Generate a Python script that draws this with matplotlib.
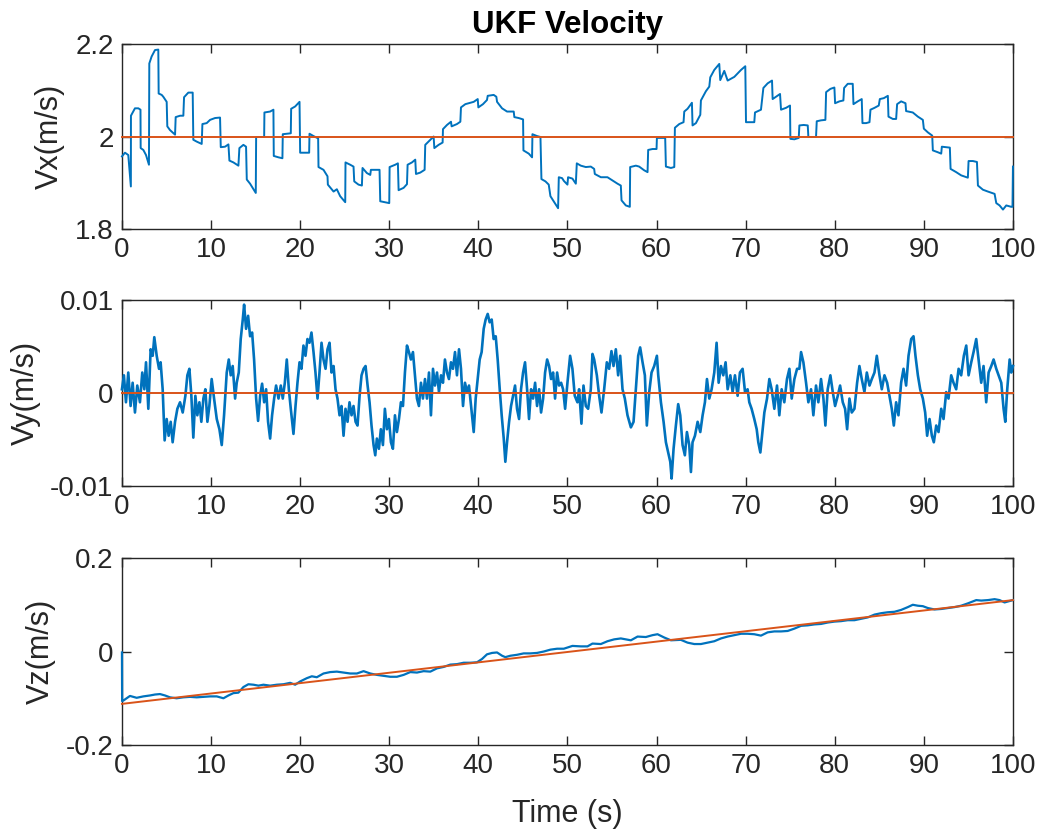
import matplotlib
matplotlib.use("Agg")
import numpy as np
import matplotlib.pyplot as plt

# ---- data ----
time_ref = [0, 100]
vx_ref = [2.0, 2.0]
vy_ref = [0.0, 0.0]
vz_ref = [-0.112, 0.110]

vx_t = [0, 0.34, 0.71, 1.0, 1.01, 1.46, 1.84, 2.08, 2.10, 2.40, 2.70, 3.03, 3.07, 3.33, 3.71, 4.08,
        4.12, 4.46, 4.64, 5.02, 5.09, 5.39, 5.96, 6.03, 6.52, 6.89, 6.97, 7.45, 7.94, 8.01, 8.39, 8.95,
        9.03, 9.51, 9.89, 10.45, 11.01, 11.09, 11.57, 11.95, 12.06, 12.51, 13.07, 13.18, 13.63, 13.93,
        14.01, 14.38, 15.02, 15.06, 15.69, 15.96, 15.99, 16.63, 17.00, 17.04, 17.57, 18.01, 18.05, 18.50,
        18.95, 18.99, 19.44, 19.93, 20.0, 20.56, 21.01, 21.05, 21.50, 22.02, 22.06, 22.62, 23.07, 23.11,
        23.75, 24.12, 24.49, 25.06, 25.09, 25.62, 25.99, 26.07, 26.55, 26.93, 27.0, 27.49, 27.87, 27.94,
        28.24, 28.91, 28.99, 30.0, 30.04, 30.67, 30.97, 31.05, 31.61, 31.99, 32.06, 32.55, 32.92, 33.0,
        33.48, 33.97, 34.04, 34.61, 34.98, 35.06, 35.54, 35.99, 36.03, 36.48, 36.93, 37.0, 37.6, 37.98,
        38.05, 38.54, 39.1, 39.48, 39.93, 40.0, 40.52, 40.97, 41.05, 41.72, 42.02, 42.1, 42.66, 43.22,
        43.97, 44.04, 44.53, 45.02, 45.06, 45.66, 46.03, 46.07, 46.59, 46.97, 47.08, 47.53, 47.9, 48.09,
        48.95, 49.03, 49.4, 49.6, 50.0, 50.07, 50.56, 50.94, 51.05, 51.5, 52.06, 52.62, 53.0, 53.07,
        53.75, 54.49, 55.06, 55.62, 55.99, 56.07, 56.55, 57.0, 57.04, 57.68, 58.05, 58.61, 58.99, 59.06,
        59.55, 60.0, 60.04, 60.49, 60.97, 61.05, 61.61, 61.99, 62.06, 62.55, 63.03, 63.11, 63.48, 63.97,
        64.04, 64.42, 64.91, 64.98, 65.54, 65.92, 66.03, 66.48, 67.04, 67.15, 67.6, 67.98, 68.73, 69.48,
        69.96, 70.04, 70.6, 70.97, 71.05, 71.72, 71.99, 72.47, 72.96, 73.03, 73.41, 73.86, 73.97, 74.53,
        74.98, 75.02, 75.47, 75.96, 76.03, 76.52, 76.97, 77.04, 77.9, 77.98, 78.46, 78.95, 79.03, 79.51,
        79.96, 80.04, 80.52, 80.97, 81.05, 81.46, 82.02, 82.1, 82.58, 83.03, 83.11, 83.52, 83.9, 84.01,
        84.46, 84.94, 85.06, 85.51, 85.96, 86.03, 86.52, 86.89, 87.0, 87.45, 87.94, 88.01, 88.76, 89.33,
        89.89, 90.0, 90.45, 90.94, 91.01, 91.57, 91.95, 92.02, 92.51, 92.92, 93.0, 93.63, 94.19, 94.94,
        95.02, 95.51, 95.96, 96.07, 96.63, 97.19, 97.94, 98.13, 98.5, 98.88, 99.25, 99.81, 99.95, 100.0]
vx_v = [1.957, 1.965, 1.960, 1.892, 2.045, 2.061, 2.061, 2.058, 1.975, 1.971, 1.960, 1.939, 2.158, 2.173,
        2.187, 2.188, 2.093, 2.090, 2.086, 2.075, 2.022, 2.014, 2.004, 2.042, 2.045, 2.045, 2.085, 2.095,
        2.095, 1.993, 1.989, 1.984, 2.027, 2.029, 2.036, 2.040, 2.041, 1.977, 1.978, 1.983, 1.948, 1.944,
        1.937, 1.975, 1.982, 1.978, 1.907, 1.898, 1.878, 1.999, 1.999, 1.999, 2.052, 2.054, 2.058, 1.958,
        1.955, 1.953, 2.005, 2.006, 2.007, 2.060, 2.065, 2.075, 1.965, 1.965, 1.965, 2.006, 2.001, 1.996,
        1.934, 1.928, 1.914, 1.896, 1.881, 1.886, 1.871, 1.858, 1.944, 1.939, 1.935, 1.903, 1.896, 1.894,
        1.932, 1.921, 1.917, 1.928, 1.928, 1.928, 1.860, 1.856, 1.934, 1.939, 1.942, 1.884, 1.889, 1.897,
        1.939, 1.944, 1.950, 1.919, 1.922, 1.928, 1.982, 1.993, 2.000, 1.975, 1.982, 1.987, 2.016, 2.025,
        2.032, 2.022, 2.027, 2.032, 2.063, 2.070, 2.073, 2.075, 2.081, 2.063, 2.070, 2.079, 2.088, 2.090,
        2.086, 2.075, 2.061, 2.054, 2.054, 2.042, 2.040, 2.037, 1.970, 1.963, 1.955, 2.005, 2.001, 1.999,
        1.908, 1.903, 1.896, 1.871, 1.845, 1.912, 1.910, 1.904, 1.896, 1.912, 1.909, 1.898, 1.942, 1.937,
        1.934, 1.935, 1.930, 1.919, 1.912, 1.912, 1.905, 1.898, 1.894, 1.862, 1.851, 1.848, 1.934, 1.937,
        1.935, 1.927, 1.923, 1.971, 1.973, 1.973, 1.997, 1.997, 1.997, 1.935, 1.932, 1.934, 2.019, 2.027,
        2.031, 2.054, 2.060, 2.073, 2.024, 2.029, 2.047, 2.078, 2.098, 2.108, 2.128, 2.144, 2.157, 2.122,
        2.142, 2.121, 2.129, 2.144, 2.152, 2.031, 2.031, 2.031, 2.052, 2.058, 2.105, 2.115, 2.121, 2.081,
        2.086, 2.092, 2.058, 2.062, 2.067, 1.995, 1.994, 1.997, 2.024, 2.025, 2.024, 1.999, 1.999, 2.033,
        2.035, 2.036, 2.096, 2.103, 2.106, 2.072, 2.076, 2.078, 2.105, 2.114, 2.114, 2.070, 2.076, 2.081,
        2.029, 2.029, 2.031, 2.058, 2.062, 2.067, 2.081, 2.083, 2.088, 2.043, 2.038, 2.038, 2.070, 2.076,
        2.072, 2.055, 2.052, 2.043, 2.036, 2.017, 2.009, 2.002, 1.970, 1.966, 1.963, 1.978, 1.977, 1.976,
        1.930, 1.923, 1.916, 1.911, 1.947, 1.947, 1.945, 1.894, 1.885, 1.881, 1.876, 1.856, 1.851, 1.842,
        1.851, 1.848, 1.848, 1.935]

vy_t = [0, 0.22, 0.45, 0.71, 0.97, 1.2, 1.46, 1.72, 2.02, 2.28, 2.51, 2.70, 2.96, 3.22, 3.45, 3.63, 3.9,
        4.16, 4.34, 4.57, 4.79, 5.02, 5.24, 5.47, 5.69, 5.96, 6.22, 6.52, 6.82, 7.12, 7.34, 7.57, 7.79,
        8.01, 8.24, 8.46, 8.69, 8.91, 9.14, 9.36, 9.59, 9.81, 10.07, 10.34, 10.64, 10.94, 11.2, 11.46,
        11.76, 11.99, 12.21, 12.43, 12.70, 12.88, 13.11, 13.33, 13.56, 13.71, 13.93, 14.16, 14.38, 14.61,
        14.83, 15.06, 15.28, 15.51, 15.73, 15.96, 16.18, 16.4, 16.63, 16.85, 17.08, 17.3, 17.57, 17.83,
        18.05, 18.28, 18.5, 18.73, 18.95, 19.25, 19.48, 19.7, 19.93, 20.15, 20.37, 20.6, 20.82, 21.05,
        21.27, 21.5, 21.72, 21.95, 22.17, 22.4, 22.62, 22.85, 23.07, 23.3, 23.52, 23.75, 23.97, 24.19,
        24.42, 24.64, 24.87, 25.09, 25.32, 25.54, 25.77, 25.99, 26.22, 26.44, 26.67, 26.89, 27.12, 27.34,
        27.57, 27.79, 28.01, 28.24, 28.43, 28.61, 28.84, 29.06, 29.29, 29.51, 29.74, 29.96, 30.19, 30.41,
        30.64, 30.86, 31.09, 31.31, 31.54, 31.76, 31.99, 32.21, 32.43, 32.66, 32.88, 33.11, 33.33, 33.56,
        33.78, 34.01, 34.23, 34.46, 34.68, 34.91, 35.13, 35.36, 35.58, 35.81, 36.03, 36.25, 36.48, 36.7,
        36.93, 37.15, 37.38, 37.6, 37.83, 38.05, 38.28, 38.5, 38.73, 38.95, 39.18, 39.48, 39.7, 39.93,
        40.15, 40.37, 40.6, 40.82, 41.05, 41.27, 41.5, 41.72, 41.95, 42.17, 42.4, 42.62, 42.85, 43.03,
        43.22, 43.45, 43.67, 43.9, 44.12, 44.34, 44.57, 44.79, 45.02, 45.24, 45.47, 45.69, 45.92, 46.14,
        46.37, 46.59, 46.82, 47.04, 47.27, 47.49, 47.72, 47.94, 48.16, 48.39, 48.61, 48.84, 49.06, 49.29,
        49.51, 49.74,
        50.0, 50.3, 50.56, 50.82, 51.12, 51.31, 51.57, 51.8, 52.06, 52.32, 52.62, 52.81, 53.0, 53.3,
        53.56, 53.82, 54.12, 54.42, 54.68, 54.94, 55.17, 55.43, 55.69, 55.92, 56.18, 56.44, 56.74, 57.12,
        57.42, 57.68, 57.94, 58.16, 58.43, 58.69, 58.91, 59.18, 59.44, 59.74, 60.04, 60.19, 60.49, 60.79,
        61.05, 61.31, 61.54, 61.69, 61.91, 62.17, 62.43, 62.66, 62.92, 63.18, 63.41, 63.67, 63.86, 64.04,
        64.31, 64.61, 64.91, 65.17, 65.43, 65.66, 65.92, 66.18, 66.48, 66.74, 66.97, 67.23, 67.49, 67.75,
        67.98, 68.28, 68.54, 68.8, 69.1, 69.36, 69.66, 69.93, 70.22, 70.41, 70.67, 70.97, 71.24, 71.42,
        71.65, 71.91, 72.1, 72.4, 72.66, 72.92, 73.22, 73.52, 73.78, 74.04, 74.34, 74.64, 74.91, 75.17,
        75.47, 75.77, 76.03, 76.22, 76.48, 76.78, 77.04, 77.34, 77.6, 77.9, 78.16, 78.46, 78.73, 78.95,
        79.21, 79.51, 79.78, 80.04, 80.34, 80.6, 80.9, 81.16, 81.39, 81.65, 81.91, 82.21, 82.51, 82.77,
        83.03, 83.33, 83.6, 83.9, 84.16, 84.46, 84.72, 85.02, 85.28, 85.58, 85.88, 86.14, 86.4, 86.63,
        86.89, 87.15, 87.45, 87.72, 88.01, 88.28, 88.58, 88.84, 89.06, 89.33, 89.59, 89.89, 90.15, 90.37,
        90.64, 90.9, 91.12, 91.39, 91.65, 91.95, 92.21, 92.51, 92.77, 93.07, 93.33, 93.63, 93.9, 94.19,
        94.49, 94.76, 95.02, 95.32, 95.58, 95.88, 96.14, 96.44, 96.7, 97.0, 97.27, 97.57, 97.83, 98.13,
        98.39, 98.69, 98.95, 99.14, 99.36, 99.63, 99.81, 100.0]
# Vy in units of 1e-3 m/s
vy_v = [0.4, 1.9, -1.0, 2.2, -1.4, 1.1, -2.1, 0.8, -1.0, 2.2, 0.4, 3.3, -1.7, 4.7, 4.0, 6.0, 4.0, 2.6,
        3.3, 0.4, -5.1, -2.8, -4.6, -3.1, -5.3, -3.1, -1.7, -1.0, -2.1, -0.3, 1.9, 2.6, -0.3, -4.8, -0.3,
        -2.4, -1.0, -3.1, -0.6, 0.4, -3.1, -1.4, 1.5, -0.6, -2.8, -3.9, -5.6, -2.4, 2.2, 3.6, 1.9, 2.9,
        -0.6, 1.1, 2.2, 5.8, 7.9, 9.5, 6.9, 8.3, 6.1, 6.5, 3.6, -0.6, -3.0, -0.3, 1.0, -1.0, 0.4, -3.1,
        -4.9, -2.4, -0.6, 0.8, -0.6, 0.8, -0.6, 1.1, 3.6, 0.4, -1.7, -4.4, -1.4, 1.1, 3.3, 2.6, 5.1, 4.0,
        5.8, 5.4, 6.5, 4.4, 2.2, -0.6, 2.2, 5.4, 3.6, 2.6, 4.7, 5.4, 2.2, 2.9, 0.4, -0.6, -2.4, -1.4,
        -4.6, -1.7, -3.1, -1.0, -2.4, -1.4, -3.1, -3.5, -0.3, 1.9, 2.6, 2.9, 0.8, -1.0, -3.5, -5.6, -6.7,
        -4.9, -6.0, -3.9, -5.6, -1.7, -3.9, -2.8, -5.3, -6.0, -2.4, -4.2, -2.8, -1.0, -1.4, 2.2, 5.1, 4.4,
        3.6, 4.4, 1.9, -0.6, -1.4, 1.1, -0.6, 1.5, -0.6, 2.2, -2.4, 2.6, 0.8, 2.2, 0.1, 1.9, 1.1, 3.6,
        2.2, 1.5, 3.3, 2.6, 4.4, 1.9, 4.7, 2.6, -1.4, 1.1, 0.1, 0.8, -1.4, -4.2, -0.6, 1.5, 3.6, 4.4,
        6.9, 7.9, 8.5, 7.6, 7.9, 5.8, 6.1, 3.6, 0.4, -2.4, -4.9, -7.4, -5.3, -3.1, -1.4, -0.3, 0.8, -1.7,
        -2.8, 0.4, 2.2, 3.3, 0.4, -2.8, 0.4, -0.6, 1.1, -1.4, 0.4, -2.1, -0.6, 2.2, 3.6, 2.9, 1.5, 2.2,
        -0.6, 2.2, 0.8, 1.1, 0.4, -1.7,
        1.1, 4.0, 2.6, -0.3, -1.0, 0.4, -3.3, 0.8, -1.4, -1.7, 0.4, 4.2, 3.6, 1.9, -0.3, -2.1, 0.4, 3.3,
        2.6, 4.5, 2.9, 4.7, 1.9, 4.0, 0.4, -0.6, -2.4, -3.7, -3.1, 0.4, 4.0, 4.9, 3.3, 1.9, -3.5, 0.1,
        2.2, 2.9, 4.0, 1.9, -1.0, -3.1, -5.3, -6.4, -7.4, -9.2, -6.0, -3.5, -1.2, -2.4, -5.6, -6.7, -4.2,
        -5.6, -8.5, -5.3, -4.6, -3.1, -4.2, -2.4, -1.0, 1.5, -0.6, 0.4, 2.2, 5.4, 1.1, 2.9, 1.9, 3.3,
        0.4, 1.9, 0.1, 1.9, -0.3, 2.2, 2.6, 0.1, 0.4, -1.0, -1.7, -2.8, -3.9, -5.3, -6.4, -3.9, -2.1,
        -0.6, 1.5, 0.4, -1.7, 0.8, -2.4, 0.4, -1.0, 1.5, 2.6, -0.6, 1.5, 2.6, 2.6, 4.4, 3.3, 1.1, -1.0,
        0.4, -2.4, 0.8, -1.0, 1.5, -0.6, -3.5, 0.4, 1.9, 0.1, -1.4, -0.3, 0.8, -1.0, -1.7, -3.9, -0.6,
        -2.1, -1.7, 1.1, 2.9, 1.5, 0.1, 2.2, 0.8, 1.5, 2.2, 4.0, 1.9, 0.4, 1.9, 1.1, -0.3, -1.7, -3.5,
        -1.0, -2.4, 1.1, 2.6, 0.8, 4.0, 5.8, 6.1, 4.0, 1.9, 0.4, -0.6, -2.1, -4.6, -2.8, -4.6, -5.3,
        -3.5, -4.2, -1.7, -2.8, 0.1, -0.6, 1.9, 1.1, 0.4, 2.6, 1.9, 4.0, 5.1, 1.9, 3.3, 4.4, 5.8, 3.6,
        1.1, 2.9, -1.0, 2.2, 2.9, 3.6, 2.6, 1.9, 1.1, -1.7, -3.1, 0.4, 3.6, 2.2, 2.9]

vz_t = [0, 0.02, 0.15, 0.9, 1.65, 2.4, 3.15, 3.71, 4.27, 4.83, 5.39, 6.14, 6.89, 7.64, 8.39, 9.14, 9.89,
        10.64, 11.39, 11.95, 12.51, 13.07, 13.63, 14.19, 14.76, 15.32, 15.88, 16.63, 17.38, 18.13, 18.88,
        19.44, 20.0, 20.75, 21.31, 21.87, 22.62, 23.37, 24.12, 24.87, 25.62, 26.37, 27.12, 27.87, 28.61,
        29.36, 30.11, 30.86, 31.61, 32.36, 33.11, 33.86, 34.61, 35.36, 36.1, 36.85, 37.6, 38.35, 39.1,
        39.85, 40.41, 40.97, 41.54, 42.1, 42.66, 43.03, 43.6, 44.34, 45.09, 45.84, 46.59, 47.34, 48.09,
        48.84, 49.59, 50.56, 51.5, 52.25, 52.81, 53.75, 54.49, 55.24, 55.99, 57.12, 57.87, 58.8, 59.55,
        60.11, 60.86, 61.61, 62.73, 63.48, 64.23, 64.98, 65.73, 66.48, 67.23, 67.98, 68.73, 69.48, 70.22,
        70.97, 71.72, 72.47, 73.22, 73.97, 74.72, 75.47, 76.22, 76.97, 77.72, 78.46, 79.21, 79.96, 80.71,
        81.46, 82.21, 82.96, 83.71, 84.46, 85.21, 85.96, 86.7, 87.45, 88.2, 88.76, 89.33, 89.89, 90.45,
        91.2, 91.95, 92.7, 93.45, 94.19, 94.94, 95.88, 96.44, 97.19, 97.94, 98.5, 99.06, 99.44, 100.0]
vz_v = [-0.002, -0.106, -0.105, -0.095, -0.099, -0.096, -0.094, -0.092, -0.091, -0.094, -0.098, -0.100,
        -0.098, -0.097, -0.098, -0.097, -0.096, -0.096, -0.100, -0.094, -0.089, -0.088, -0.076, -0.070,
        -0.071, -0.073, -0.071, -0.073, -0.071, -0.070, -0.067, -0.071, -0.064, -0.057, -0.053, -0.055,
        -0.047, -0.044, -0.043, -0.045, -0.047, -0.047, -0.042, -0.047, -0.050, -0.052, -0.054, -0.054,
        -0.050, -0.044, -0.045, -0.042, -0.043, -0.036, -0.033, -0.028, -0.027, -0.024, -0.024, -0.023,
        -0.016, -0.006, -0.003, -0.002, -0.009, -0.012, -0.009, -0.007, -0.004, -0.004, -0.003, 0.000,
        0.004, 0.006, 0.006, 0.012, 0.011, 0.011, 0.017, 0.016, 0.022, 0.026, 0.028, 0.024, 0.032, 0.031,
        0.035, 0.037, 0.030, 0.024, 0.025, 0.019, 0.016, 0.016, 0.019, 0.022, 0.028, 0.032, 0.035, 0.038,
        0.038, 0.037, 0.034, 0.041, 0.043, 0.043, 0.044, 0.049, 0.055, 0.056, 0.058, 0.059, 0.062, 0.064,
        0.065, 0.067, 0.067, 0.070, 0.073, 0.079, 0.082, 0.084, 0.085, 0.089, 0.095, 0.100, 0.098, 0.097,
        0.093, 0.090, 0.091, 0.093, 0.095, 0.098, 0.103, 0.110, 0.109, 0.110, 0.112, 0.110, 0.105, 0.107,
        0.110]

blue = "#0072BD"
orange = "#D95319"
axcol = "#262626"

plt.rcParams["font.family"] = ["Liberation Sans", "DejaVu Sans"]

fig = plt.figure(figsize=(10.37, 8.34), dpi=100)
left, width = 0.1176, 0.8592
ax1 = fig.add_axes([left, 0.7254, width, 0.2218])
ax2 = fig.add_axes([left, 0.4173, width, 0.2230])
ax3 = fig.add_axes([left, 0.1067, width, 0.2242])

kw = dict(zorder=3, clip_on=False)
ax1.plot(vx_t, vx_v, color=blue, lw=1.4, **kw)
ax1.plot(time_ref, vx_ref, color=orange, lw=1.4, **kw)
# the noisy Vy trace looks like a fat band in the original
ax2.plot(vy_t, np.array(vy_v) * 1e-3, color=blue, lw=1.9, **kw)
ax2.plot(time_ref, vy_ref, color=orange, lw=1.4, **kw)
ax3.plot(vz_t, vz_v, color=blue, lw=1.6, **kw)
ax3.plot(time_ref, vz_ref, color=orange, lw=1.4, **kw)

ax1.set_ylim(1.8, 2.2)
ax1.set_yticks([1.8, 2.0, 2.2], ["1.8", "2", "2.2"])
ax2.set_ylim(-0.01, 0.01)
ax2.set_yticks([-0.01, 0, 0.01], ["-0.01", "0", "0.01"])
ax3.set_ylim(-0.2, 0.2)
ax3.set_yticks([-0.2, 0, 0.2], ["-0.2", "0", "0.2"])

for ax, lab in zip([ax1, ax2, ax3], ["Vx(m/s)", "Vy(m/s)", "Vz(m/s)"]):
    ax.set_xlim(0, 100)
    ax.set_xticks(range(0, 101, 10))
    ax.tick_params(direction="in", length=6.5, width=1.0, top=True, right=True,
                   colors=axcol, labelsize=20, pad=6)
    for sp in ax.spines.values():
        sp.set_color(axcol)
        sp.set_linewidth(1.0)
    ax.set_ylabel(lab, fontsize=22, color=axcol, labelpad=7)

ax3.set_xlabel("Time (s)", fontsize=22, color=axcol, labelpad=14)
ax1.set_title("UKF Velocity", fontsize=22.5, fontweight="bold", pad=8)

fig.savefig("out.png", dpi=100)
